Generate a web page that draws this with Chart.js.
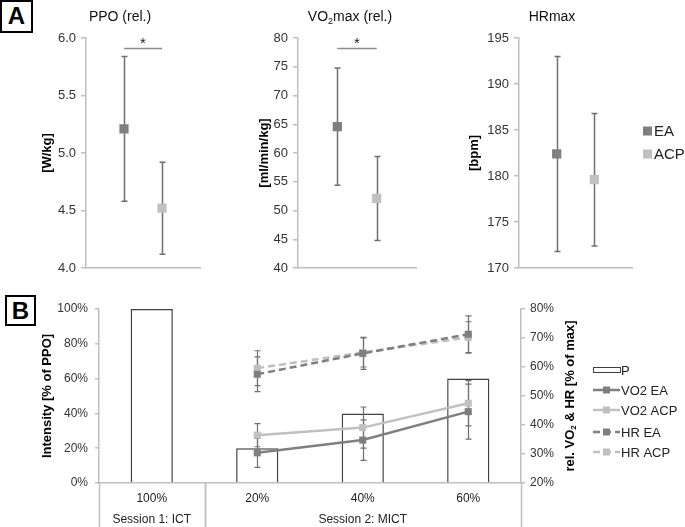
<!DOCTYPE html>
<html>
<head>
<meta charset="utf-8">
<title>EA vs ACP</title>
<script src="https://cdn.jsdelivr.net/npm/chart.js@4.4.0/dist/chart.umd.min.js"></script>
<style>
  body { margin: 0; background: #fff; font-family: "Liberation Sans", Arial, sans-serif; }
  #wrap { position: relative; width: 685px; height: 527px; overflow: hidden; }
  canvas { position: absolute; }
  .tag {
    position: absolute; box-sizing: border-box; border: 2.5px solid #000; background: #fff;
    font-weight: bold; font-size: 24px; line-height: 27px; text-align: center; color: #000;
  }
</style>
</head>
<body>
<div id="wrap">
  <canvas id="ppoChart" width="240" height="290" style="left:0;top:0"></canvas>
  <canvas id="vo2Chart" width="220" height="290" style="left:240px;top:0"></canvas>
  <canvas id="hrChart" width="225" height="290" style="left:460px;top:0"></canvas>
  <canvas id="sessionChart" width="685" height="237" style="left:0;top:290px"></canvas>
  <div class="tag" style="left:0;top:0;width:33px;height:33px">A</div>
  <div class="tag" style="left:5px;top:295px;width:31px;height:31px">B</div>
</div>
<script>
// ---- panel A: maximal values (mean, SD) ----
const groups = ['EA', 'ACP'];
const ppoMean = [5.21, 4.52];
const ppoSd = [0.63, 0.40];
const vo2maxMean = [64.6, 52.1];
const vo2maxSd = [10.2, 7.3];
const hrmaxMean = [182.4, 179.6];
const hrmaxSd = [10.6, 7.2];

// ---- panel B: sessions ----
const intensityLabels = ['100%', '20%', '40%', '60%'];
const sessionLabels = ['Session 1: ICT', 'Session 2: MICT'];
const sessionSpans = [[0, 0], [1, 3]];
const intensityP = [100, 20, 40, 60];
const vo2EA = [null, 30.4, 34.8, 44.6];
const vo2EASd = [null, 5.0, 7.0, 9.5];
const vo2ACP = [null, 36.5, 39.1, 47.5];
const vo2ACPSd = [null, 4.0, 7.1, 7.8];
const hrEA = [null, 57.5, 64.7, 71.3];
const hrEASd = [null, 6.0, 5.5, 6.3];
const hrACP = [null, 59.6, 65.0, 70.2];
const hrACPSd = [null, 6.0, 5.0, 5.4];

const DARK = '#7f7f7f';
const LIGHT = '#c0c0c0';
const AXIS = '#bfbfbf';
const FONT = '"Liberation Sans", Arial, sans-serif';

Chart.defaults.font.family = FONT;
Chart.defaults.color = '#333';

// draws "VO" + subscript "2" etc.
function drawRich(ctx, item) {
  const size = item.size || 13;
  const weight = item.bold ? 'bold ' : '';
  const parts = typeof item.parts === 'string' ? [item.parts] : item.parts;
  ctx.save();
  ctx.translate(item.x, item.y);
  ctx.rotate(item.rotation || 0);
  ctx.fillStyle = item.color || '#000';
  ctx.textBaseline = 'middle';
  ctx.textAlign = 'left';
  let total = 0;
  const widths = parts.map(function(p) {
    const sub = typeof p === 'object';
    ctx.font = weight + (sub ? Math.round(size * 0.65) : size) + 'px ' + FONT;
    const w = ctx.measureText(sub ? p.sub : p).width;
    total += w;
    return w;
  });
  let cx = item.align === 'left' ? 0 : -total / 2;
  parts.forEach(function(p, i) {
    const sub = typeof p === 'object';
    ctx.font = weight + (sub ? Math.round(size * 0.65) : size) + 'px ' + FONT;
    ctx.fillText(sub ? p.sub : p, cx, sub ? size * 0.3 : 0);
    cx += widths[i];
  });
  ctx.restore();
}

const textPlugin = {
  id: 'texts',
  afterDraw(chart, args, opts) {
    (opts.items || []).forEach(function(it) { drawRich(chart.ctx, it); });
  }
};

function drawErrorBars(chart, opts) {
  const ctx = chart.ctx;
  const xScale = chart.scales.x;
  ctx.save();
  ctx.strokeStyle = opts.color;
  ctx.lineWidth = opts.width;
  chart.data.datasets.forEach(function(ds) {
    if (!ds.errors) return;
    const yScale = chart.scales[ds.yAxisID || 'y'];
    ds.data.forEach(function(v, i) {
      const e = ds.errors[i];
      if (v == null || e == null) return;
      const x = Math.round(xScale.getPixelForValue(i)) + 0.5;
      const top = yScale.getPixelForValue(v + e);
      const bot = yScale.getPixelForValue(v - e);
      ctx.beginPath();
      ctx.moveTo(x, top); ctx.lineTo(x, bot);
      ctx.moveTo(x - opts.cap, top); ctx.lineTo(x + opts.cap, top);
      ctx.moveTo(x - opts.cap, bot); ctx.lineTo(x + opts.cap, bot);
      ctx.stroke();
    });
  });
  ctx.restore();
}

const errorBarPlugin = {
  id: 'errorBars',
  beforeDatasetsDraw(chart, args, opts) {
    if (opts.afterIndex == null) drawErrorBars(chart, opts);
  },
  afterDatasetDraw(chart, args, opts) {
    if (opts.afterIndex === args.index) drawErrorBars(chart, opts);
  }
};

// significance bracket between the two groups
const sigPlugin = {
  id: 'sig',
  afterDatasetsDraw(chart, args, opts) {
    if (opts.level == null) return;
    const ctx = chart.ctx;
    const x1 = chart.scales.x.getPixelForValue(1);
    const x2 = chart.scales.x.getPixelForValue(2);
    const y = Math.round(chart.scales.y.getPixelForValue(opts.level)) + 0.5;
    ctx.save();
    ctx.strokeStyle = '#8c8c8c';
    ctx.lineWidth = 1.5;
    ctx.beginPath();
    ctx.moveTo(x1, y); ctx.lineTo(x2, y);
    ctx.stroke();
    ctx.fillStyle = '#222';
    ctx.font = '15px ' + FONT;
    ctx.textAlign = 'center';
    ctx.textBaseline = 'alphabetic';
    ctx.fillText('*', (x1 + x2) / 2, y - 1);
    ctx.restore();
  }
};

// simple square legend (panel A)
const squareLegendPlugin = {
  id: 'squareLegend',
  afterDraw(chart, args, opts) {
    if (!opts.x) return;
    const ctx = chart.ctx;
    ctx.save();
    chart.data.datasets.forEach(function(ds, i) {
      const y = opts.y + i * opts.gap;
      ctx.fillStyle = ds.backgroundColor;
      ctx.fillRect(opts.x, y - 4.5, 9, 9);
      ctx.fillStyle = '#222';
      ctx.font = '15px ' + FONT;
      ctx.textBaseline = 'middle';
      ctx.fillText(ds.label, opts.x + 11, y + 1);
    });
    ctx.restore();
  }
};

function placeAt(values, idx) {
  const out = [null, null, null, null];
  out[idx + 1] = values[idx];
  return out;
}

function makeMaxChart(id, opts) {
  const ctx = document.getElementById(id);
  return new Chart(ctx, {
    type: 'line',
    data: {
      labels: ['', groups[0], groups[1], ''],
      datasets: groups.map(function(g, i) {
        const col = i === 0 ? DARK : LIGHT;
        return {
          label: g,
          data: placeAt(opts.mean, i),
          errors: placeAt(opts.sd, i),
          showLine: false,
          pointStyle: 'rect',
          pointRadius: 6.5,
          backgroundColor: col,
          borderColor: col,
          pointBorderWidth: 0
        };
      })
    },
    plugins: [errorBarPlugin, sigPlugin, textPlugin, squareLegendPlugin],
    options: {
      responsive: false,
      animation: false,
      layout: { padding: opts.padding },
      plugins: {
        legend: { display: false },
        tooltip: { enabled: false },
        errorBars: { color: '#6f6f6f', width: 1.5, cap: 3 },
        sig: { level: opts.sigLevel },
        squareLegend: opts.legend || {},
        texts: { items: [{ parts: opts.title, x: opts.titleX, y: 17, size: 14, color: '#111' }] }
      },
      scales: {
        x: {
          offset: false,
          ticks: { display: false },
          grid: { display: false },
          border: { color: AXIS, width: 1.5 },
          afterFit: function(s) { s.height = 0; }
        },
        y: {
          min: opts.min,
          max: opts.max,
          ticks: { stepSize: opts.step, padding: 5, color: '#333', font: { size: 13 },
                   callback: function(v) { return opts.decimals ? v.toFixed(opts.decimals) : v; } },
          grid: { drawOnChartArea: false, tickLength: 5, color: AXIS, lineWidth: 1.5 },
          border: { color: AXIS, width: 1.5 },
          title: { display: true, text: opts.yTitle, color: '#000',
                   font: { size: 13, weight: 'bold' }, padding: { top: opts.yTitlePad, bottom: 0 } },
          afterFit: function(s) { s.width = opts.yWidth; }
        }
      }
    }
  });
}

makeMaxChart('ppoChart', {
  mean: ppoMean, sd: ppoSd, min: 4, max: 6, step: 0.5, decimals: 1,
  yTitle: '[W/kg]', yTitlePad: 40, yWidth: 86, sigLevel: 5.91,
  padding: { left: 0, top: 38, right: 40, bottom: 22 },
  title: 'PPO (rel.)', titleX: 120
});

makeMaxChart('vo2Chart', {
  mean: vo2maxMean, sd: vo2maxSd, min: 40, max: 80, step: 5,
  yTitle: '[ml/min/kg]', yTitlePad: 17, yWidth: 58, sigLevel: 78.3,
  padding: { left: 0, top: 38, right: 44, bottom: 22 },
  title: ['VO', { sub: '2' }, 'max (rel.)'], titleX: 110
});

makeMaxChart('hrChart', {
  mean: hrmaxMean, sd: hrmaxSd, min: 170, max: 195, step: 5,
  yTitle: '[bpm]', yTitlePad: 7, yWidth: 59,
  padding: { left: 0, top: 38, right: 53, bottom: 22 },
  title: 'HRmax', titleX: 92,
  legend: { x: 183, y: 131, gap: 23 }
});

// ---- panel B ----
const sessionPlugin = {
  id: 'sessions',
  afterDraw(chart) {
    const ctx = chart.ctx;
    const x = chart.scales.x;
    const area = chart.chartArea;
    ctx.save();
    ctx.strokeStyle = AXIS;
    ctx.lineWidth = 1.5;
    ctx.fillStyle = '#222';
    ctx.font = '12px ' + FONT;
    ctx.textAlign = 'center';
    ctx.textBaseline = 'middle';
    sessionSpans.forEach(function(span, i) {
      const left = x.getPixelForValue(span[0] - 0.5);
      const right = x.getPixelForValue(span[1] + 0.5);
      [left, right].forEach(function(px) {
        const p = Math.round(px) + 0.5;
        ctx.beginPath();
        ctx.moveTo(p, area.bottom);
        ctx.lineTo(p, chart.height);
        ctx.stroke();
      });
      ctx.fillText(sessionLabels[i], (left + right) / 2, area.bottom + 37);
    });
    ctx.restore();
  }
};

const lineLegendPlugin = {
  id: 'lineLegend',
  afterDraw(chart, args, opts) {
    const ctx = chart.ctx;
    ctx.save();
    chart.data.datasets.forEach(function(ds, i) {
      const y = opts.rows[i];
      const x0 = opts.x;
      const x1 = opts.x + 27;
      if (ds.type === 'bar') {
        ctx.fillStyle = '#fff';
        ctx.strokeStyle = ds.borderColor;
        ctx.lineWidth = 1;
        ctx.strokeRect(x0 + 0.5, y - 2.5, 27, 5);
      } else {
        ctx.strokeStyle = ds.borderColor;
        ctx.lineWidth = ds.borderWidth;
        ctx.setLineDash(ds.borderDash || []);
        ctx.beginPath();
        ctx.moveTo(x0, y); ctx.lineTo(x1, y);
        ctx.stroke();
        ctx.setLineDash([]);
        ctx.fillStyle = ds.borderColor;
        ctx.fillRect((x0 + x1) / 2 - 3.5, y - 3.5, 7, 7);
      }
      ctx.fillStyle = '#222';
      ctx.font = '13px ' + FONT;
      ctx.textBaseline = 'middle';
      ctx.textAlign = 'left';
      ctx.fillText(ds.label, x1 + 1, y + 1);
    });
    ctx.restore();
  }
};

function lineSet(label, data, sd, color, dash) {
  return {
    type: 'line', label: label, data: data, errors: sd, yAxisID: 'y1',
    borderColor: color, backgroundColor: color, borderWidth: 2.5,
    borderDash: dash, pointStyle: 'rect', pointRadius: 5, pointBorderWidth: 0,
    pointBackgroundColor: color, order: 1
  };
}

new Chart(document.getElementById('sessionChart'), {
  data: {
    labels: intensityLabels,
    datasets: [
      { type: 'bar', label: 'P', data: intensityP, yAxisID: 'y', backgroundColor: '#fff',
        borderColor: '#404040', borderWidth: 1.5, barPercentage: 0.4, categoryPercentage: 1, order: 10 },
      lineSet('VO2 EA', vo2EA, vo2EASd, DARK),
      lineSet('VO2 ACP', vo2ACP, vo2ACPSd, LIGHT),
      lineSet('HR EA', hrEA, hrEASd, DARK, [7, 4]),
      lineSet('HR ACP', hrACP, hrACPSd, LIGHT, [7, 4])
    ]
  },
  plugins: [errorBarPlugin, sessionPlugin, lineLegendPlugin, textPlugin],
  options: {
    responsive: false,
    animation: false,
    layout: { padding: { left: 0, top: 19, right: 0, bottom: 0 } },
    plugins: {
      legend: { display: false },
      tooltip: { enabled: false },
      errorBars: { color: '#6f6f6f', width: 1.2, cap: 3, afterIndex: 0 },
      lineLegend: { x: 593, rows: [80, 100, 120, 142, 162] },
      texts: { items: [{ parts: ['rel. VO', { sub: '2' }, ' & HR [% of max]'], x: 570, y: 106,
                         size: 13, bold: true, rotation: -Math.PI / 2 }] }
    },
    scales: {
      x: {
        ticks: { padding: 8, color: '#222', font: { size: 12 } },
        grid: { display: false, drawTicks: false },
        border: { color: AXIS, width: 1.5 },
        afterFit: function(s) { s.height = 44; }
      },
      y: {
        position: 'left', min: 0, max: 100,
        ticks: { stepSize: 20, padding: 7, color: '#333', font: { size: 12 },
                 callback: function(v) { return v + '%'; } },
        grid: { drawOnChartArea: false, tickLength: 4, color: AXIS, lineWidth: 1.5 },
        border: { color: AXIS, width: 1.5 },
        title: { display: true, text: 'Intensity [% of PPO]', color: '#000',
                 font: { size: 13, weight: 'bold' }, padding: { top: 40, bottom: 0 } },
        afterFit: function(s) { s.width = 99; }
      },
      y1: {
        position: 'right', min: 20, max: 80,
        ticks: { stepSize: 10, padding: 5, color: '#333', font: { size: 12 },
                 callback: function(v) { return v + '%'; } },
        grid: { drawOnChartArea: false, tickLength: 4, color: AXIS, lineWidth: 1.5 },
        border: { color: AXIS, width: 1.5 },
        afterFit: function(s) { s.width = 164; }
      }
    }
  }
});
</script>
</body>
</html>
